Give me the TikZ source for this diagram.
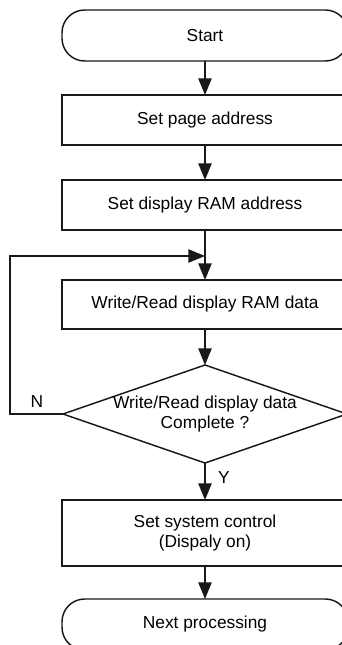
\documentclass[tikz,border=0pt]{standalone}
\usepackage{fontspec}
\setmainfont{Liberation Sans}
\usetikzlibrary{shapes.geometric,arrows.meta}
\begin{document}
\begin{tikzpicture}[x=0.75pt,y=-0.75pt,
  every node/.style={font=\fontsize{13pt}{15.5pt}\selectfont, text=black},
  line/.style={draw=black!90, line width=1.1pt},
  arr/.style={line, -{Triangle[length=12.5pt,width=10pt]}},
  proc/.style={line, rectangle, minimum width=214.5pt, inner sep=0pt, outer sep=0pt, align=center},
  term/.style={proc, rounded corners=17pt, minimum height=38.25pt},
  decis/.style={line, diamond, minimum width=213pt, minimum height=73.5pt, inner sep=0pt, outer sep=0pt},
  lbl/.style={inner sep=0pt}]
\useasboundingbox (0,0) rectangle (342,645);
\clip (0,0) rectangle (342,645);
\node[term] (start) at (205,35.5) {Start};
\node[proc, minimum height=37.5pt] (b1) at (205,120) {Set page address};
\node[proc, minimum height=37.5pt] (b2) at (205,205) {Set display RAM address};
\node[proc, minimum height=36.75pt] (b3) at (205,304.5) {Write/Read display RAM data};
\node[decis] (dia) at (205,414) {};
\node[lbl, align=center] (diat) at (205,414) {Write/Read display data\\[-1pt]Complete ?};
\node[proc, minimum height=49.5pt] (b4) at (205,533) {Set system control\\[-1pt](Dispaly on)};
\node[term] (next) at (205,624.5) {Next processing};
\coordinate (join) at (205,256);
\coordinate (lft) at (10,414);
\node[lbl] (n) at (37,402) {N};
\node[lbl] (y) at (224,478) {Y};
\draw[arr] (start) -- (b1);
\draw[arr] (b1) -- (b2);
\draw[arr] (b2) -- (b3);
\draw[arr] (b3) -- (dia);
\draw[arr] (dia) -- (b4);
\draw[arr] (b4) -- (next);
\draw[arr] (dia.west) -- (lft) |- (join);
\end{tikzpicture}
\end{document}
